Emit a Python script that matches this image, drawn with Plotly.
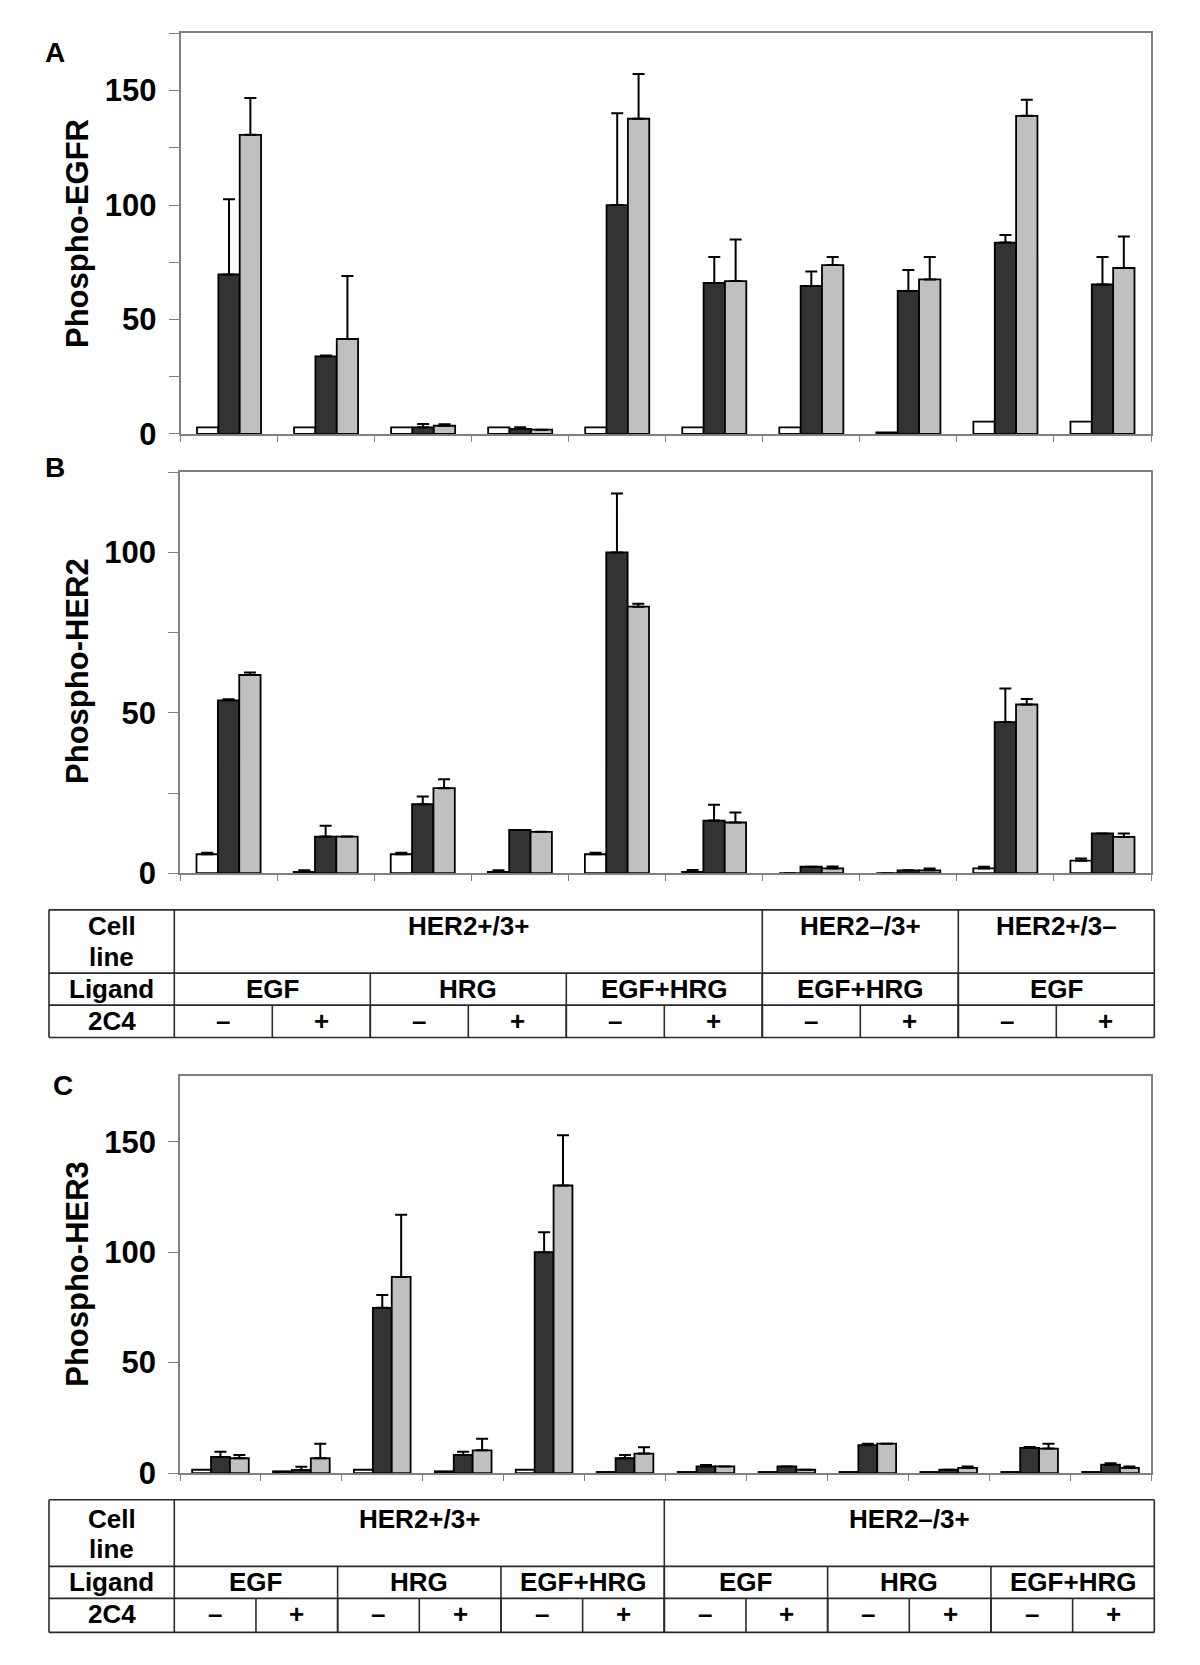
import plotly.graph_objects as go

# The page body has a default 8px margin: the figure is sized so that the whole
# page is exactly 1200x1665; layout positions below are page pixels.
PAGE_W, PAGE_H = 1200, 1665
OFF = 8
W, H = PAGE_W - 2 * OFF, PAGE_H - 2 * OFF
YS = 1.0108  # vertical calibration of the photographed page
FONT = "Liberation Sans, Arial, Helvetica, sans-serif"

# ---------------- data ----------------
# Table for panels A and B
ab_cell_lines = ["HER2+/3+", "HER2–/3+", "HER2+/3–"]
ab_cell_spans = [6, 2, 2]
ab_ligands = ["EGF", "HRG", "EGF+HRG", "EGF+HRG", "EGF"]
ab_ligand_spans = [2, 2, 2, 2, 2]
ab_2c4 = ["–", "+", "–", "+", "–", "+", "–", "+", "–", "+"]

# Table for panel C
c_cell_lines = ["HER2+/3+", "HER2–/3+"]
c_cell_spans = [6, 6]
c_ligands = ["EGF", "HRG", "EGF+HRG", "EGF", "HRG", "EGF+HRG"]
c_ligand_spans = [2, 2, 2, 2, 2, 2]
c_2c4 = ["–", "+", "–", "+", "–", "+", "–", "+", "–", "+", "–", "+"]

# Panel A: Phospho-EGFR
egfr_white = [2.9, 2.9, 2.9, 2.9, 2.9, 2.9, 2.9, 0.7, 5.4, 5.4]
egfr_dark = [69.7, 33.9, 2.9, 2.2, 100.0, 66.0, 64.7, 62.5, 83.6, 65.3]
egfr_grey = [130.7, 41.5, 3.6, 1.9, 137.7, 66.8, 73.8, 67.5, 139.0, 72.5]
egfr_white_err = [0, 0, 0, 0, 0, 0, 0, 0, 0, 0]
egfr_dark_err = [32.8, 0.4, 1.5, 0.7, 40.1, 11.3, 6.3, 9.1, 3.3, 12.0]
egfr_grey_err = [16.1, 27.5, 0.6, 0.0, 19.6, 18.2, 3.5, 9.8, 7.0, 13.8]

# Panel B: Phospho-HER2
her2_white = [5.9, 0.4, 5.9, 0.4, 5.9, 0.4, 0.0, 0.0, 1.5, 3.9]
her2_dark = [53.9, 11.4, 21.5, 13.5, 100.0, 16.4, 2.0, 0.9, 47.1, 12.4]
her2_grey = [61.8, 11.4, 26.5, 12.9, 83.1, 15.8, 1.5, 0.9, 52.6, 11.3]
her2_white_err = [0.5, 0.5, 0.5, 0.5, 0.5, 0.6, 0.0, 0.0, 0.5, 0.7]
her2_dark_err = [0.3, 3.4, 2.4, 0.0, 18.4, 4.9, 0.0, 0.0, 10.5, 0.0]
her2_grey_err = [0.8, 0.0, 2.8, 0.0, 0.9, 3.1, 0.6, 0.6, 1.7, 1.1]

# Panel C: Phospho-HER3
her3_white = [1.5, 0.8, 1.5, 0.8, 1.5, 0.5, 0.5, 0.5, 0.5, 0.5, 0.5, 0.5]
her3_dark = [7.3, 1.4, 74.8, 8.2, 100.0, 6.7, 3.0, 3.0, 12.6, 1.5, 11.4, 3.8]
her3_grey = [6.7, 6.7, 88.8, 10.3, 130.2, 8.8, 3.0, 1.5, 13.3, 2.3, 11.1, 2.3]
her3_white_err = [0, 0, 0, 0, 0, 0, 0, 0, 0, 0, 0, 0]
her3_dark_err = [2.4, 1.5, 5.8, 1.5, 9.0, 1.5, 0.6, 0.0, 0.7, 0.0, 0.4, 0.6]
her3_grey_err = [1.5, 6.6, 28.2, 5.2, 22.8, 2.9, 0.0, 0.0, 0.0, 0.7, 2.2, 0.7]

bar_colors = ["#ffffff", "#333333", "#c0c0c0"]


# ---------------- helpers ----------------
def px(x):
    return (x - OFF) / W


def py(y):
    return 1 - (y * YS - OFF) / H


def expand(labels, spans):
    out = []
    for lab, s in zip(labels, spans):
        out += [lab] * s
    return out


def categories(cells, cspans, ligs, lspans, signs):
    c = expand(cells, cspans)
    l = expand(ligs, lspans)
    return [f"{a} | {b} | 2C4 {s}" for a, b, s in zip(c, l, signs)]


cats_ab = categories(ab_cell_lines, ab_cell_spans, ab_ligands, ab_ligand_spans, ab_2c4)
cats_c = categories(c_cell_lines, c_cell_spans, c_ligands, c_ligand_spans, c_2c4)

fig = go.Figure()


def add_panel(cats, series, errs, xa, ya, gap):
    w = (1 - gap) / 3
    for k, (vals, err, col) in enumerate(zip(series, errs, bar_colors)):
        fig.add_trace(go.Bar(
            x=cats, y=vals, xaxis=xa, yaxis=ya,
            width=w, offset=-1.5 * w + k * w,
            marker=dict(color=col, line=dict(color="black", width=1.8)),
            error_y=dict(type="data", array=err, arrayminus=[0] * len(err),
                         symmetric=False, color="black", thickness=2, width=6,
                         visible=any(e > 0 for e in err)),
            showlegend=False, hoverinfo="skip"))


add_panel(cats_ab, [egfr_white, egfr_dark, egfr_grey],
          [egfr_white_err, egfr_dark_err, egfr_grey_err], "x", "y", 0.34)
add_panel(cats_ab, [her2_white, her2_dark, her2_grey],
          [her2_white_err, her2_dark_err, her2_grey_err], "x2", "y2", 0.34)
add_panel(cats_c, [her3_white, her3_dark, her3_grey],
          [her3_white_err, her3_dark_err, her3_grey_err], "x3", "y3", 0.30)

AXC = "#808080"
tickfont = dict(family=FONT, size=31, color="black", weight="bold")


def xcfg(dom, cats, anchor):
    return dict(domain=dom, type="category", categoryorder="array", categoryarray=cats,
                range=[-0.5, len(cats) - 0.5], showticklabels=False, ticks="outside",
                tickson="boundaries", ticklen=6, tickcolor=AXC, tickwidth=1.2,
                showline=True, linecolor=AXC, linewidth=1.5, mirror=True,
                showgrid=False, zeroline=False, anchor=anchor, fixedrange=True)


def ycfg(dom, top, step, labstep, anchor):
    vals = list(range(0, top + 1, step))
    txt = [str(v) if v % labstep == 0 and v <= top - 1 else "" for v in vals]
    return dict(domain=dom, range=[0, top], tickmode="array", tickvals=vals, ticktext=txt,
                ticks="outside", ticklen=10, tickcolor=AXC, tickwidth=1.2,
                showline=True, linecolor=AXC, linewidth=1.5, mirror=True,
                showgrid=False, zeroline=False, tickfont=tickfont,
                ticklabelstandoff=6, anchor=anchor, fixedrange=True)


fig.update_layout(
    width=W, height=H, autosize=False,
    margin=dict(l=0, r=0, t=0, b=0),
    paper_bgcolor="white", plot_bgcolor="white",
    barmode="overlay",
    xaxis=xcfg([px(180.5), px(1151)], cats_ab, "y"),
    yaxis=ycfg([py(434), py(33.3)], 175, 25, 50, "x"),
    xaxis2=xcfg([px(180), px(1151)], cats_ab, "y2"),
    yaxis2=ycfg([py(873.3), py(472.3)], 125, 25, 50, "x2"),
    xaxis3=xcfg([px(180), px(1151)], cats_c, "y3"),
    yaxis3=ycfg([py(1473.3), py(1075.7)], 180, 50, 50, "x3"),
)

annotations = []
shapes = []


def text(x, y, s, size=26, angle=0):
    annotations.append(dict(x=px(x), y=py(y), xref="paper", yref="paper", text=s,
                            showarrow=False, xanchor="center", yanchor="middle",
                            textangle=angle,
                            font=dict(family=FONT, size=size, color="black", weight="bold")))


# panel letters and axis titles
text(55, 52, "A", size=28)
text(55, 468, "B", size=28)
text(63, 1086, "C", size=28)
text(77, 234, "Phospho-EGFR", size=31, angle=-90)
text(78, 671, "Phospho-HER2", size=31, angle=-90)
text(78, 1274, "Phospho-HER3", size=31, angle=-90)

TL = dict(color="#2a2a2a", width=1.6)


def line(x0, y0, x1, y1):
    shapes.append(dict(type="line", xref="paper", yref="paper",
                       x0=px(x0), y0=py(y0), x1=px(x1), y1=py(y1), line=TL))


def draw_table(left, lab_right, right, rows, cells, cspans, ligs, lspans, signs, ty):
    n = len(signs)
    cw = (right - lab_right) / n
    top, r1, r2, bot = rows
    for y in rows:
        line(left, y, right, y)
    line(left, top, left, bot)
    line(right, top, right, bot)
    line(lab_right, top, lab_right, bot)
    pos = 0
    for lab, s in zip(cells, cspans):
        x0 = lab_right + pos * cw
        x1 = lab_right + (pos + s) * cw
        text((x0 + x1) / 2, ty[0], lab)
        if pos > 0:
            line(x0, top, x0, bot)
        pos += s
    pos = 0
    for lab, s in zip(ligs, lspans):
        x0 = lab_right + pos * cw
        x1 = lab_right + (pos + s) * cw
        text((x0 + x1) / 2, ty[2], lab)
        if pos > 0:
            line(x0, r1, x0, bot)
        pos += s
    for i, s in enumerate(signs):
        x0 = lab_right + i * cw
        text(x0 + cw / 2, ty[3], s)
        if i > 0:
            line(x0, r2, x0, bot)
    cx = (left + lab_right) / 2
    text(cx, ty[0], "Cell")
    text(cx, ty[1], "line")
    text(cx, ty[2], "Ligand")
    text(cx, ty[3], "2C4")


draw_table(49, 174.3, 1154.3, [910, 973.3, 1005.3, 1037.7],
           ab_cell_lines, ab_cell_spans, ab_ligands, ab_ligand_spans, ab_2c4,
           [925.8, 957.5, 988.8, 1021])
draw_table(49, 174.3, 1154.3, [1500, 1566.7, 1598.7, 1632.7],
           c_cell_lines, c_cell_spans, c_ligands, c_ligand_spans, c_2c4,
           [1519.5, 1549, 1582, 1614.5])

fig.update_layout(annotations=annotations, shapes=shapes)
fig.write_html("out.html", config={"displayModeBar": False})
